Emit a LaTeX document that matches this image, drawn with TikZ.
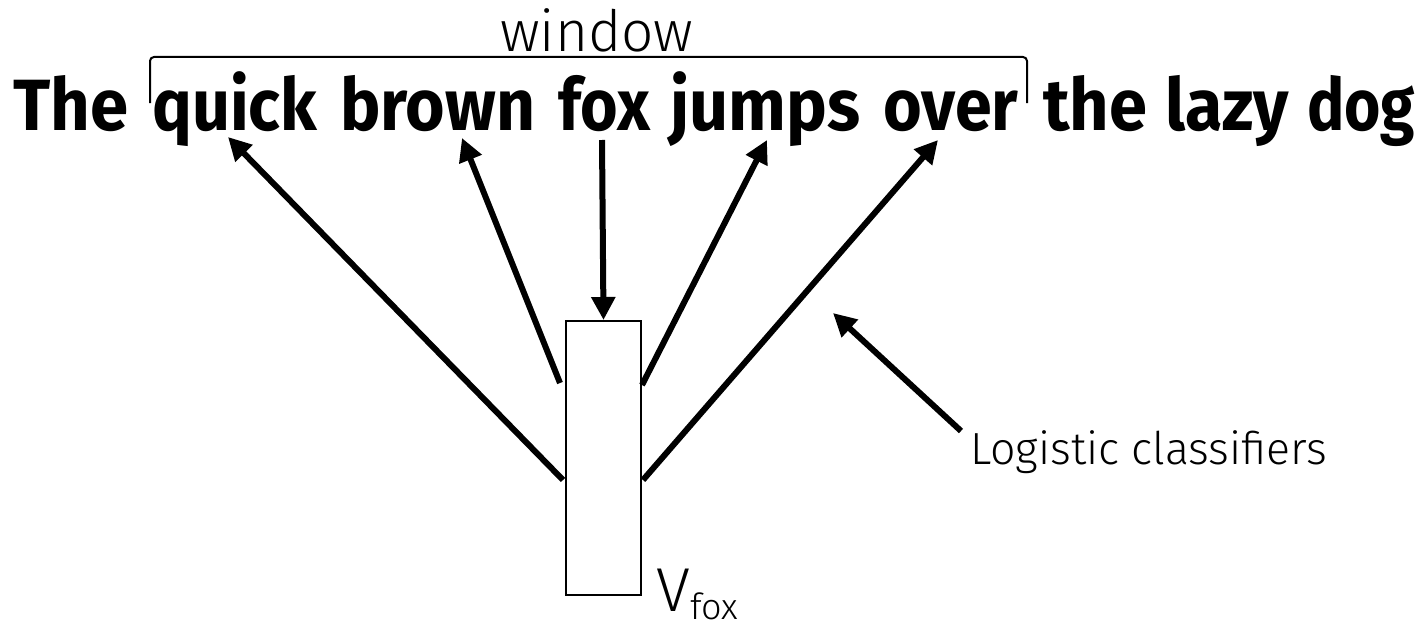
\documentclass[tikz,border=0pt]{standalone}
\usepackage{fontspec}
\usepackage{graphicx}
\usetikzlibrary{arrows.meta}
\setmainfont{Fira Sans}
\newfontfamily\lightfont{Fira Sans Light}

% a bold word stretched to a given width, height kept
\newcommand\fitword[2]{\resizebox{#1}{\height}{\fontsize{72.6}{80}\selectfont\bfseries #2}}

\tikzset{
  wordarrow/.style={line width=6pt, -{Triangle[length=23pt,width=23pt]}},
  thinbox/.style={draw, line width=2pt, minimum width=75pt, minimum height=274pt, inner sep=0pt},
  bracket/.style={line width=2pt, rounded corners=4pt},
  label/.style={inner sep=0pt, anchor=base west}
}

\begin{document}
\begin{tikzpicture}[x=1pt, y=-1pt]
  \useasboundingbox (0,0) rectangle (1425,626);

  % the sentence, word by word
  \node[label] (w1) at (13,130)   {\fitword{115pt}{The}};
  \node[label] (w2) at (152,130)  {\fitword{165pt}{quick}};
  \node[label] (w3) at (340,130)  {\fitword{195pt}{brown}};
  \node[label] (w4) at (558,130)  {\fitword{92pt}{fox}};
  \node[label] (w5) at (670,130)  {\fitword{190pt}{jumps}};
  \node[label] (w6) at (883,130)  {\fitword{135pt}{over}};
  \node[label] (w7) at (1043,130) {\fitword{104pt}{the}};
  \node[label] (w8) at (1165,130) {\fitword{124pt}{lazy}};
  \node[label] (w9) at (1307,130) {\fitword{108pt}{dog}};

  % window bracket and its caption
  \coordinate (bl) at (150,103);
  \coordinate (br) at (1027,103);
  \draw[bracket] (bl) -- (150,57) -- (1027,57) -- (br);
  \node[label] (window) at (500,52)
    {\resizebox{193pt}{\height}{\fontsize{57}{60}\selectfont\lightfont window}};

  % word vector of the centre word
  \node[thinbox] (vfox) at (603.5,458) {};
  \node[label] (vlabel) at (656,611)
    {\fontsize{62}{64}\selectfont\lightfont V\raisebox{-8pt}{\fontsize{36}{40}\selectfont fox}};

  % arrow targets under the context words
  \coordinate (tquick) at (228,137);
  \coordinate (tbrown) at (462,138);
  \coordinate (tjumps) at (767,140);
  \coordinate (tover)  at (938,140);
  \coordinate (sfox)   at (602,140);

  % arrow tails beside the box
  \coordinate (s1) at (563,480);
  \coordinate (s2) at (560,383);
  \coordinate (s4) at (642,385);
  \coordinate (s5) at (643,480);

  \draw[wordarrow] (s1) -- (tquick);
  \draw[wordarrow] (s2) -- (tbrown);
  \draw[wordarrow] (sfox) -- (vfox.north);
  \draw[wordarrow] (s4) -- (tjumps);
  \draw[wordarrow] (s5) -- (tover);

  % classifier caption
  \node[label] (logit) at (970,464)
    {\resizebox{357pt}{\height}{\fontsize{45}{48}\selectfont\lightfont Logistic classifiers}};
  \coordinate (ltail) at (961,431);
  \coordinate (ltip) at (833,313);
  \draw[wordarrow] (ltail) -- (ltip);
\end{tikzpicture}
\end{document}
